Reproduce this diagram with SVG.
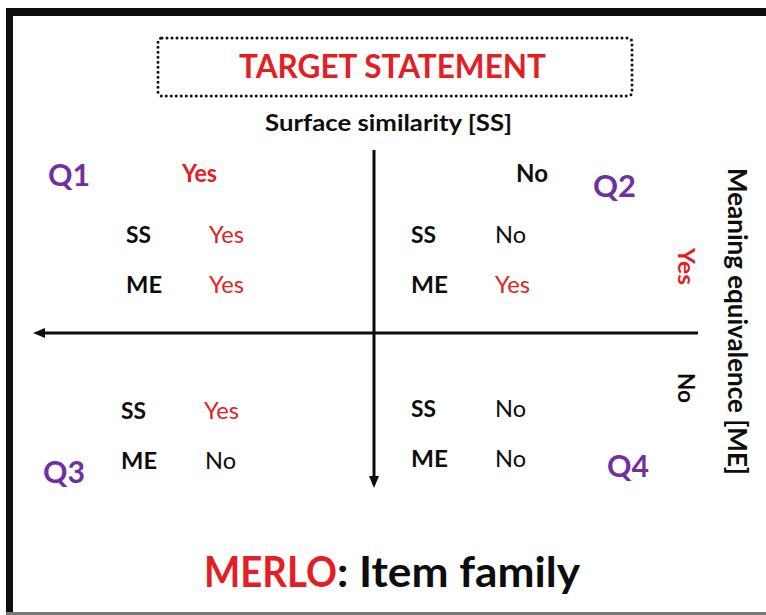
<svg xmlns="http://www.w3.org/2000/svg" width="766" height="615" viewBox="0 0 766 615">
  <style>
    text { font-family: "Lato", "Open Sans", "Liberation Sans", sans-serif; }
    .b { font-weight: bold; }
    .red { fill: #e31e24; }
    .blk { fill: #0d0d0d; }
    .pur { fill: #7030a0; font-weight: bold; font-size: 30px; }
    .lbl { font-weight: bold; font-size: 23px; fill: #0d0d0d; }
    .val { font-size: 23px; }
    .axis { stroke: #0d0d0d; stroke-width: 3; fill: none; }
  </style>
  <defs>
    <marker id="ah" viewBox="0 0 12 10" refX="5" refY="5" markerWidth="12" markerHeight="10" orient="auto" markerUnits="userSpaceOnUse">
      <path d="M0,0 L12,5 L0,10 z" fill="#0d0d0d"/>
    </marker>
  </defs>

  <rect width="766" height="615" fill="#ffffff"/>
  <!-- frame -->
  <g id="frame">
    <rect x="6" y="8" width="760" height="8" fill="#0d0d12"/>
    <rect x="6" y="8" width="7" height="606" fill="#0d0d12"/>
    <rect x="6" y="612" width="760" height="3" fill="#777777"/>
  </g>

  <g id="title">
    <rect x="158" y="38" width="474" height="58" rx="4" fill="none" stroke="#111" stroke-width="3" stroke-dasharray="0 5" stroke-linecap="round"/>
    <text x="392.5" y="78" text-anchor="middle" class="b red" font-size="32" textLength="307" lengthAdjust="spacingAndGlyphs">TARGET STATEMENT</text>
  </g>

  <g id="axis-ss-label">
    <text x="388.5" y="131" text-anchor="middle" class="b blk" font-size="23" textLength="247" lengthAdjust="spacingAndGlyphs">Surface similarity [SS]</text>
  </g>

  <g id="axis-me-label">
    <text transform="translate(728,168) rotate(90)" class="b blk" font-size="27" textLength="307" lengthAdjust="spacingAndGlyphs">Meaning equivalence [ME]</text>
  </g>

  <g id="connectors">
    <line class="axis" x1="698" y1="333" x2="40" y2="333" marker-end="url(#ah)"/>
    <line class="axis" x1="374" y1="150" x2="374" y2="481" marker-end="url(#ah)"/>
  </g>

  <g id="axis-values">
    <text x="182" y="182" class="b red" font-size="24" textLength="35" lengthAdjust="spacingAndGlyphs">Yes</text>
    <text x="516" y="182" class="b blk" font-size="24" textLength="32" lengthAdjust="spacingAndGlyphs">No</text>
    <text transform="translate(678,248) rotate(90)" class="b red" font-size="23" textLength="37" lengthAdjust="spacingAndGlyphs">Yes</text>
    <text transform="translate(678,373) rotate(90)" class="b blk" font-size="23" textLength="30" lengthAdjust="spacingAndGlyphs">No</text>
  </g>

  <g id="q1">
    <text x="48" y="186" class="pur" textLength="42" lengthAdjust="spacingAndGlyphs">Q1</text>
    <text x="126" y="243" class="lbl" textLength="25" lengthAdjust="spacingAndGlyphs">SS</text>
    <text x="209" y="243" class="val red" textLength="35" lengthAdjust="spacingAndGlyphs">Yes</text>
    <text x="126" y="293" class="lbl" textLength="36" lengthAdjust="spacingAndGlyphs">ME</text>
    <text x="209" y="293" class="val red" textLength="35" lengthAdjust="spacingAndGlyphs">Yes</text>
  </g>

  <g id="q2">
    <text x="593" y="197" class="pur" textLength="43" lengthAdjust="spacingAndGlyphs">Q2</text>
    <text x="411" y="243" class="lbl" textLength="25" lengthAdjust="spacingAndGlyphs">SS</text>
    <text x="495" y="243" class="val blk" textLength="31" lengthAdjust="spacingAndGlyphs">No</text>
    <text x="411" y="293" class="lbl" textLength="37" lengthAdjust="spacingAndGlyphs">ME</text>
    <text x="495" y="293" class="val red" textLength="35" lengthAdjust="spacingAndGlyphs">Yes</text>
  </g>

  <g id="q3">
    <text x="43" y="483" class="pur" textLength="42" lengthAdjust="spacingAndGlyphs">Q3</text>
    <text x="121" y="419" class="lbl" textLength="25" lengthAdjust="spacingAndGlyphs">SS</text>
    <text x="204" y="419" class="val red" textLength="35" lengthAdjust="spacingAndGlyphs">Yes</text>
    <text x="121" y="469" class="lbl" textLength="36" lengthAdjust="spacingAndGlyphs">ME</text>
    <text x="205" y="469" class="val blk" textLength="31" lengthAdjust="spacingAndGlyphs">No</text>
  </g>

  <g id="q4">
    <text x="607" y="477" class="pur" textLength="42" lengthAdjust="spacingAndGlyphs">Q4</text>
    <text x="411" y="417" class="lbl" textLength="25" lengthAdjust="spacingAndGlyphs">SS</text>
    <text x="495" y="417" class="val blk" textLength="31" lengthAdjust="spacingAndGlyphs">No</text>
    <text x="411" y="467" class="lbl" textLength="37" lengthAdjust="spacingAndGlyphs">ME</text>
    <text x="495" y="467" class="val blk" textLength="31" lengthAdjust="spacingAndGlyphs">No</text>
  </g>

  <g id="caption">
    <text x="204" y="587" class="b" font-size="42"><tspan class="red" textLength="133" lengthAdjust="spacingAndGlyphs">MERLO</tspan><tspan class="blk" textLength="243" lengthAdjust="spacingAndGlyphs">: Item family</tspan></text>
  </g>
</svg>
